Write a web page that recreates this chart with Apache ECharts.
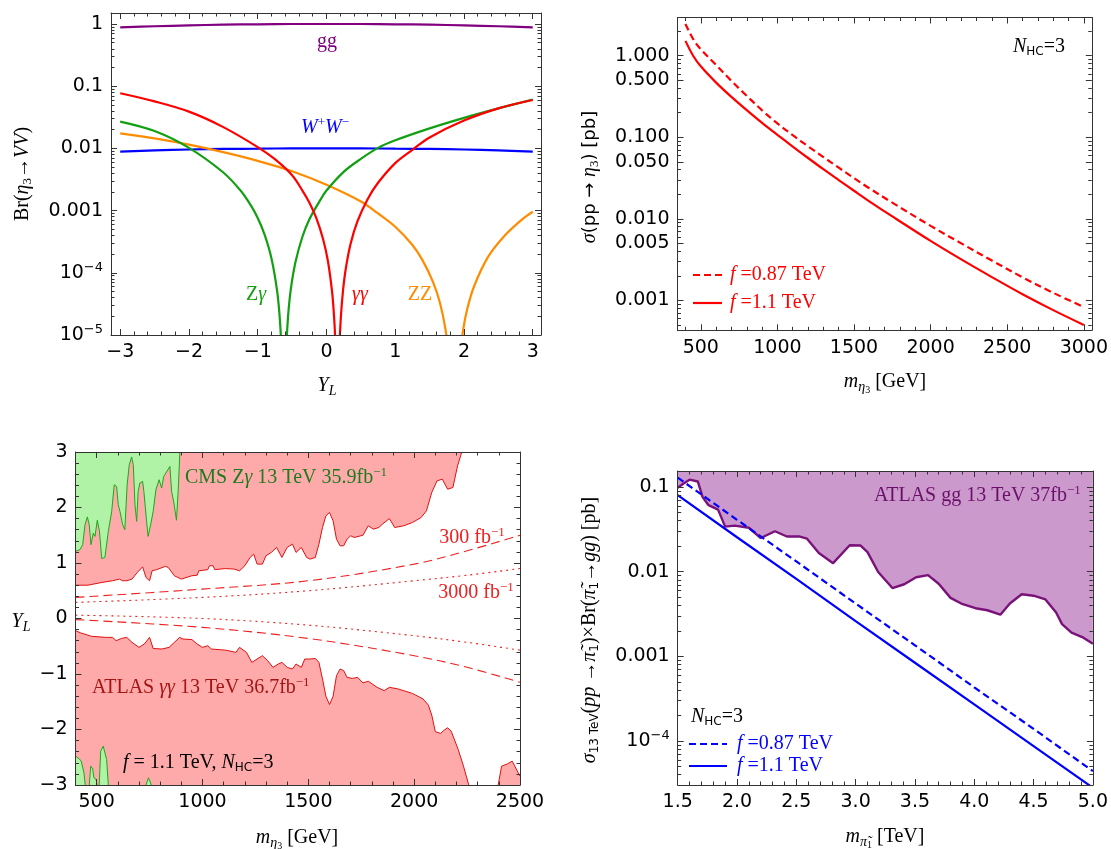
<!DOCTYPE html>
<html>
<head>
<meta charset="utf-8">
<script src="https://cdn.jsdelivr.net/npm/echarts@6.0.0/dist/echarts.min.js"></script>
<style>
  html, body { margin: 0; padding: 0; background: #fff; }
  #chart { width: 1111px; height: 849px; }
</style>
</head>
<body>
<div id="chart"></div>
<script>
// 左上: Br(eta3 -> VV) vs Y_L
var yL = [-3, -2.5, -2, -1.5, -1, -0.5, 0, 0.5, 1, 1.5, 2, 2.5, 3];
var brGG = [0.88, 0.92, 0.95, 0.975, 0.99, 1.0, 1.0, 1.0, 0.99, 0.975, 0.95, 0.92, 0.88];
var brWW = [0.0089, 0.0093, 0.0096, 0.0098, 0.0099, 0.01, 0.01, 0.01, 0.0099, 0.0098, 0.0096, 0.0093, 0.0089];
var yLaa = [-3, -2.5, -2, -1.5, -1, -0.75, -0.5, -0.35, -0.25, -0.15, -0.05, 0.02, 0.08, 0.11, 0.13, 0.145, 0.16, 0.175, 0.19, 0.21, 0.24, 0.28, 0.35, 0.45, 0.6, 0.75, 1, 1.25, 1.5, 2, 2.5, 3];
var brAA = [0.077, 0.057, 0.039, 0.022, 0.0105, 0.0067, 0.0037, 0.0021, 0.00135, 0.00077, 0.00035, 0.000156, 5.1e-5, 2e-5, 7.2e-6, 1.8e-6, 1e-8, 1.8e-6, 7.2e-6, 2e-5, 5.1e-5, 1.15e-4, 2.9e-4, 6.7e-4, 0.00154, 0.0028, 0.0058, 0.0095, 0.015, 0.028, 0.044, 0.06];
var yLza = [-3, -2.5, -2, -1.5, -1.25, -1.1, -1, -0.9, -0.8, -0.72, -0.68, -0.65, -0.635, -0.62, -0.605, -0.59, -0.56, -0.52, -0.45, -0.35, -0.25, -0.1, 0, 0.25, 0.5, 0.75, 1, 1.5, 2, 2.5, 3];
var brZA = [0.027, 0.019, 0.0102, 0.0041, 0.0021, 0.00121, 0.00076, 0.00041, 0.00017, 5.3e-5, 1.9e-5, 4.7e-6, 1.2e-6, 1e-8, 1.2e-6, 4.7e-6, 1.9e-5, 5.3e-5, 1.5e-4, 3.8e-4, 7.2e-4, 1.42e-3, 0.0021, 0.0042, 0.0068, 0.0102, 0.0135, 0.021, 0.031, 0.044, 0.061];
var yLzz = [-3, -2.5, -2, -1.5, -1, -0.5, 0, 0.5, 0.75, 1, 1.25, 1.4, 1.55, 1.65, 1.73, 1.79, 1.83, 1.86, 1.89, 1.93, 1.99, 2.05, 2.15, 2.35, 2.6, 2.85, 3];
var brZZ = [0.0175, 0.0145, 0.0115, 0.0087, 0.0063, 0.0043, 0.0026, 0.0014, 0.0009, 0.00055, 0.00028, 0.000157, 7.1e-5, 3.3e-5, 1.25e-5, 3.6e-6, 6.7e-7, 1e-8, 6.7e-7, 3.6e-6, 1.25e-5, 2.7e-5, 6.2e-5, 1.8e-4, 4.05e-4, 7.3e-4, 0.00096];

// 右上: sigma(pp -> eta3)
var mEta = [400, 450, 500, 600, 700, 800, 900, 1000, 1100, 1200, 1300, 1400, 1500, 1600, 1750, 2000, 2200, 2400, 2600, 2800, 3000];
var sig087 = [2.45, 1.6, 1.2, 0.77, 0.49, 0.322, 0.214, 0.148, 0.106, 0.0775, 0.0572, 0.0424, 0.0316, 0.0237, 0.0158, 0.0082, 0.005, 0.00308, 0.00192, 0.00124, 0.00083];
var sig11 = [1.52, 1.0, 0.741, 0.468, 0.313, 0.215, 0.15, 0.107, 0.0769, 0.0557, 0.0406, 0.0299, 0.0221, 0.0164, 0.0107, 0.00536, 0.00318, 0.00193, 0.00119, 0.00076, 0.0005];

// 左下: 排除区域
var redUpM = [400, 458, 525, 575, 608, 622, 642, 667, 692, 717, 733, 750, 762, 783, 825, 838, 867, 900, 950, 975, 983, 1025, 1033, 1050, 1058, 1108, 1150, 1175, 1200, 1225, 1242, 1258, 1283, 1300, 1325, 1350, 1367, 1375, 1400, 1425, 1442, 1467, 1492, 1508, 1533, 1550, 1567, 1583, 1600, 1617, 1633, 1650, 1667, 1683, 1700, 1717, 1758, 1783, 1808, 1833, 1850, 1883, 1908, 1950, 1992, 2033, 2058, 2083, 2108, 2133, 2158, 2183, 2205, 2225];
var redUpY = [0.60, 0.60, 0.65, 0.68, 0.71, 0.68, 0.68, 0.71, 0.83, 0.93, 0.74, 0.68, 0.86, 0.88, 0.94, 0.92, 0.77, 0.71, 0.77, 0.78, 0.86, 0.88, 0.95, 0.95, 0.88, 0.90, 0.89, 0.86, 0.95, 1.10, 1.16, 0.98, 0.98, 1.13, 1.19, 1.28, 1.16, 1.10, 1.28, 1.34, 1.19, 1.28, 1.10, 1.07, 1.10, 1.34, 1.64, 1.85, 1.91, 1.76, 1.43, 1.31, 1.31, 1.43, 1.49, 1.46, 1.50, 1.67, 1.61, 1.64, 1.70, 1.80, 1.64, 1.67, 1.73, 1.82, 1.94, 2.27, 2.48, 2.51, 2.33, 2.36, 2.75, 3.0];
var redLoM = [400, 425, 475, 542, 575, 592, 617, 642, 667, 700, 725, 750, 767, 808, 842, 867, 892, 908, 950, 975, 1000, 1025, 1042, 1108, 1158, 1175, 1208, 1233, 1258, 1283, 1308, 1333, 1358, 1375, 1400, 1425, 1442, 1467, 1483, 1508, 1533, 1550, 1567, 1583, 1600, 1617, 1633, 1650, 1667, 1683, 1708, 1733, 1758, 1783, 1825, 1858, 1883, 1925, 1992, 2042, 2067, 2083, 2100, 2125, 2142, 2158, 2175, 2208, 2233, 2258];
var redLoY = [-0.22, -0.26, -0.32, -0.34, -0.34, -0.40, -0.36, -0.34, -0.43, -0.52, -0.46, -0.34, -0.54, -0.55, -0.52, -0.43, -0.34, -0.37, -0.38, -0.46, -0.52, -0.49, -0.55, -0.57, -0.61, -0.52, -0.61, -0.79, -0.73, -0.67, -0.76, -0.88, -0.82, -0.79, -0.88, -0.91, -0.82, -0.88, -0.73, -0.73, -0.72, -0.79, -1.09, -1.40, -1.55, -1.40, -1.03, -0.91, -0.94, -1.06, -1.08, -1.06, -1.16, -1.13, -1.24, -1.30, -1.24, -1.27, -1.35, -1.45, -1.56, -1.74, -2.04, -2.07, -2.01, -1.97, -2.03, -2.36, -2.66, -3.0];
var redBumpM = [2397, 2413, 2440, 2463, 2500];
var redBumpY = [-3.0, -2.66, -2.62, -2.57, -2.84];
var greenUpM = [400, 421, 434, 445, 456, 465, 473, 484, 492, 503, 513, 524, 539, 555, 571, 583, 594, 602, 610, 623, 633, 644, 654, 665, 673, 681, 689, 696, 704, 717, 723, 736, 743, 755, 767, 780, 795, 807, 817, 846, 854, 865, 877, 885, 893];
var greenUpY = [1.21, 1.24, 1.33, 1.69, 1.83, 1.69, 1.33, 1.54, 1.48, 1.77, 1.58, 1.08, 1.10, 1.57, 1.93, 2.41, 2.38, 2.05, 1.93, 1.69, 1.60, 2.41, 2.77, 2.91, 2.77, 2.05, 1.75, 2.29, 2.44, 2.47, 2.29, 1.75, 1.48, 1.69, 1.93, 2.32, 2.50, 2.35, 2.56, 2.74, 2.29, 2.08, 1.77, 2.29, 3.0];
var greenLoM = [400, 408, 418, 427, 434, 440, 446, 455, 465, 472, 481, 487, 497, 502, 508, 512, 519, 531, 539, 547, 555, 640, 733, 745, 758];
var greenLoY = [-2.48, -2.51, -2.53, -2.57, -2.60, -2.78, -3.0, null, -3.0, -2.66, -2.71, -2.87, -2.90, -3.0, null, -3.0, -2.39, -2.30, -2.33, -2.54, -3.0, null, -3.0, -2.87, -3.0];
var projM = [400, 1000, 1500, 2000, 2250, 2500];
var lumi300Up = [0.38, 0.53, 0.68, 0.98, 1.22, 1.50];
var lumi300Lo = [-0.02, -0.16, -0.36, -0.67, -0.88, -1.15];
var lumi3000Up = [0.29, 0.38, 0.50, 0.68, 0.78, 0.90];
var lumi3000Lo = [0.06, 0.0, -0.12, -0.31, -0.43, -0.57];

// 右下: ATLAS gg 限制
var limM = [1.5, 1.55, 1.6, 1.67, 1.71, 1.76, 1.84, 1.9, 1.98, 2.1, 2.2, 2.32, 2.42, 2.53, 2.59, 2.69, 2.81, 2.95, 3.04, 3.1, 3.19, 3.31, 3.41, 3.51, 3.61, 3.7, 3.8, 3.89, 4.01, 4.11, 4.22, 4.3, 4.4, 4.5, 4.6, 4.69, 4.74, 4.82, 4.92, 5.0];
var limSig = [0.098, 0.11, 0.122, 0.116, 0.076, 0.061, 0.054, 0.034, 0.035, 0.033, 0.025, 0.03, 0.026, 0.026, 0.0245, 0.0166, 0.0126, 0.0205, 0.0204, 0.017, 0.0099, 0.0064, 0.0071, 0.0086, 0.0091, 0.0072, 0.0049, 0.0042, 0.0037, 0.0035, 0.0031, 0.0042, 0.0054, 0.0052, 0.0047, 0.0033, 0.0024, 0.0019, 0.00166, 0.00141];
var mPi = [1.5, 2.0, 2.5, 3.0, 3.5, 4.0, 4.5, 5.0];
var sigPi087 = [0.129, 0.041, 0.0132, 0.0042, 0.00135, 0.00043, 0.000139, 4.4e-5];
var sigPi11 = [0.08, 0.0255, 0.0082, 0.0026, 0.00084, 0.00027, 8.7e-5, 2.8e-5];

(function () {
  var chart = echarts.init(document.getElementById("chart"));
  var SERIF = '"Liberation Serif", "Times New Roman", serif';
  var SANS = '"DejaVu Sans", sans-serif';
  var FRAME = "#333";

  var pts = function (xs, ys) {
    return xs.map(function (x, i) { return [x, ys[i]]; });
  };
  var linTicks = function (lo, hi, step, skip) {
    var out = [];
    for (var i = Math.ceil(lo / step - 1e-9); i * step <= hi + 1e-9; i++) {
      var v = +(i * step).toFixed(6);
      if (skip && Math.abs(v / skip - Math.round(v / skip)) < 1e-6) continue;
      out.push(v);
    }
    return out;
  };
  var logTicks = function (lo, hi, mults) {
    var out = [];
    for (var e = -6; e <= 1; e++) {
      mults.forEach(function (k) {
        var v = +(k * Math.pow(10, e)).toPrecision(6);
        if (v >= lo && v <= hi) out.push(v);
      });
    }
    return out;
  };
  var minus = function (v) {
    return v < 0 ? "\u2212" + (-v) : String(v);
  };
  var sciLabel = function (v) {
    if (v >= 0.001) return String(+v.toPrecision(3));
    return "10{sup|\u2212" + Math.round(-Math.log10(v)) + "}";
  };

  var tickRich = { sup: { fontFamily: SANS, fontSize: 13, padding: [0, 0, 11, 0] } };
  var xAxes = [], yAxes = [];
  // 每条边两根轴: 主刻度(+标签) 与 次刻度
  function side(list, grid, pos, type, range, major, minor, fmt) {
    var idx = list.length;
    var common = {
      gridIndex: grid, type: type, min: range[0], max: range[1], position: pos, z: 6,
      splitLine: { show: false }, minorTick: { show: false }
    };
    if (type === "log") common.logBase = 10;
    list.push(Object.assign({}, common, {
      axisLine: { show: true, onZero: false, lineStyle: { color: FRAME, width: 1 } },
      axisTick: { show: true, inside: true, length: 6, customValues: major, lineStyle: { color: FRAME, width: 1 } },
      axisLabel: fmt ? {
        show: true, customValues: major, formatter: fmt, color: "#000",
        fontFamily: SANS, fontSize: 19, margin: 8, rich: tickRich
      } : { show: false }
    }));
    list.push(Object.assign({}, common, {
      axisLine: { show: false, onZero: false },
      axisTick: { show: true, inside: true, length: 3.5, customValues: minor, lineStyle: { color: FRAME, width: 1 } },
      axisLabel: { show: false }
    }));
    return idx;
  }
  function frame(grid, xType, xr, xMaj, xMin, xFmt, yType, yr, yMaj, yMin, yFmt) {
    var xi = side(xAxes, grid, "bottom", xType, xr, xMaj, xMin, xFmt);
    side(xAxes, grid, "top", xType, xr, xMaj, xMin, null);
    var yi = side(yAxes, grid, "left", yType, yr, yMaj, yMin, yFmt);
    side(yAxes, grid, "right", yType, yr, yMaj, yMin, null);
    return [xi, yi];
  }

  var grids = [
    { left: 111, top: 13, width: 430, height: 322 },
    { left: 677.5, top: 17.5, width: 416, height: 312.8 },
    { left: 75.5, top: 452, width: 444.5, height: 333 },
    { left: 677.7, top: 471, width: 418.8, height: 314 }
  ];

  var logMinor = [2, 3, 4, 5, 6, 7, 8, 9];
  var a0 = frame(0, "value", [-3.134, 3.12], linTicks(-3, 3, 1), linTicks(-3.1, 3.1, 0.2, 1), minus,
    "log", [1e-5, 1.503], logTicks(1e-5, 1.503, [1]), logTicks(1e-5, 1.503, logMinor), sciLabel);
  var a1 = frame(1, "value", [348, 3052], linTicks(500, 3000, 500), linTicks(400, 3000, 100, 500),
    function (v) { return String(v); },
    "log", [4.3e-4, 2.94], logTicks(1e-3, 2.94, [1, 5]), logTicks(4.3e-4, 2.94, [2, 3, 4, 6, 7, 8, 9]).concat([5e-4]),
    function (v) { return v.toFixed(3); });
  var a2 = frame(2, "value", [400, 2500], linTicks(500, 2500, 500), linTicks(400, 2500, 100, 500),
    function (v) { return String(v); },
    "value", [-3, 3], linTicks(-3, 3, 1), linTicks(-3, 3, 0.2, 1), minus);
  var a3 = frame(3, "value", [1.5, 5.0], linTicks(1.5, 5, 0.5), linTicks(1.5, 5, 0.1, 0.5),
    function (v) { return v.toFixed(1); },
    "log", [3.02e-5, 0.1545], logTicks(3.02e-5, 0.1545, [1]), logTicks(3.02e-5, 0.1545, logMinor), sciLabel);

  var line = function (ax, data, color, width, dash, smooth) {
    return {
      type: "line", xAxisIndex: ax[0], yAxisIndex: ax[1], data: data,
      showSymbol: false, symbol: "none", smooth: smooth === undefined ? 0.35 : smooth, clip: true,
      lineStyle: { color: color, width: width, type: dash || "solid" }
    };
  };
  var fill = function (ax, data, lineColor, fillColor, origin, width) {
    return {
      type: "line", xAxisIndex: ax[0], yAxisIndex: ax[1], data: data,
      showSymbol: false, symbol: "none", smooth: false, clip: true,
      lineStyle: { color: lineColor, width: width || 1 },
      areaStyle: { color: fillColor, opacity: 1, origin: origin }
    };
  };

  var PURPLE = "#800080", BLUE = "#0000ff", RED = "#ff0000", GREEN = "#12a012", ORANGE = "#ff8c00";
  var series = [
    line(a0, pts(yL, brGG), PURPLE, 2.2),
    line(a0, pts(yL, brWW), BLUE, 2.2),
    line(a0, pts(yLzz, brZZ), ORANGE, 2.2),
    line(a0, pts(yLza, brZA), GREEN, 2.2),
    line(a0, pts(yLaa, brAA), RED, 2.2),

    line(a1, pts(mEta, sig087), RED, 2.2, [7, 4]),
    line(a1, pts(mEta, sig11), RED, 2.2),

    fill(a2, pts(redUpM, redUpY), "#e01010", "#ffaaaa", "end"),
    fill(a2, pts(redLoM, redLoY), "#e01010", "#ffaaaa", "start"),
    fill(a2, pts(redBumpM, redBumpY), "#e01010", "#ffaaaa", "start"),
    fill(a2, pts(greenUpM, greenUpY), "#1aa81a", "#b0f3a6", "end"),
    fill(a2, pts(greenLoM, greenLoY), "#1aa81a", "#b0f3a6", "start"),
    line(a2, pts(projM, lumi300Up), "#ee2020", 1.1, [9, 5]),
    line(a2, pts(projM, lumi300Lo), "#ee2020", 1.1, [9, 5]),
    line(a2, pts(projM, lumi3000Up), "#ee2020", 1.1, [2, 4]),
    line(a2, pts(projM, lumi3000Lo), "#ee2020", 1.1, [2, 4]),

    fill(a3, pts(limM, limSig), "#7a127a", "#cc99cc", "end", 2.4),
    line(a3, pts(mPi, sigPi087), BLUE, 2.2, [7, 4], false),
    line(a3, pts(mPi, sigPi11), BLUE, 2.2, "solid", false)
  ];

  var RICH = {
    n: { fontFamily: SERIF, fontSize: 20 },
    i: { fontFamily: SERIF, fontSize: 20, fontStyle: "italic" },
    s: { fontFamily: SANS, fontSize: 18 },
    sub: { fontFamily: SERIF, fontSize: 13, padding: [10, 0, 0, 0] },
    subi: { fontFamily: SERIF, fontSize: 14, fontStyle: "italic", padding: [10, 0, 0, 0] },
    subs: { fontFamily: SANS, fontSize: 12, padding: [9, 0, 0, 0] },
    subsub: { fontFamily: SERIF, fontSize: 10, padding: [17, 0, 0, 0] },
    sup: { fontFamily: SERIF, fontSize: 13, padding: [0, 0, 11, 0] }
  };
  var txt = function (x, y, text, color, align, rot) {
    return {
      type: "text", x: x, y: y, rotation: rot || 0, z: 100, silent: true,
      style: { text: text, fill: color, align: align || "center", verticalAlign: "middle", rich: RICH, font: "20px " + SERIF }
    };
  };
  var seg = function (x1, x2, y, color, dash) {
    return {
      type: "line", z: 100, silent: true, shape: { x1: x1, y1: y, x2: x2, y2: y },
      style: { stroke: color, lineWidth: 2.2, lineDash: dash || null }
    };
  };
  var R = Math.PI / 2;
  var graphic = [
    // 左上
    txt(23, 174, "{n|Br(}{i|\u03b7}{sub|3}{n|\u2192}{i|VV}{n|)}", "#000", "center", R),
    txt(327, 386, "{i|Y}{subi|L}", "#000"),
    txt(327, 42, "{n|gg}", PURPLE),
    txt(325, 128, "{i|W}{sup|+}{i|W}{sup|\u2212}", BLUE),
    txt(256, 295, "{n|Z}{i|\u03b3}", GREEN),
    txt(360, 295, "{i|\u03b3\u03b3}", RED),
    txt(420, 295, "{n|ZZ}", ORANGE),
    // 右上
    txt(590, 177, "{i|\u03c3}{s|(pp \u2192 }{i|\u03b7}{sub|3}{s|) [pb]}", "#000", "center", R),
    txt(885, 382, "{i|m}{subi|\u03b7}{subsub|3}{n| [GeV]}", "#000"),
    txt(1039, 47, "{i|N}{subs|HC}{n|=3}", "#000"),
    seg(693, 722, 275, RED, [7, 4]),
    seg(693, 722, 303, RED),
    txt(730, 275, "{i|f}{n| =0.87 TeV}", RED, "left"),
    txt(730, 303, "{i|f}{n| =1.1 TeV}", RED, "left"),
    // 左下
    txt(21, 622, "{i|Y}{subi|L}", "#000"),
    txt(297, 838, "{i|m}{subi|\u03b7}{subsub|3}{n| [GeV]}", "#000"),
    txt(472, 538, "{n|300 fb}{sup|\u22121}", "#ee2020"),
    txt(476, 593, "{n|3000 fb}{sup|\u22121}", "#ee2020"),
    txt(185, 478, "{n|CMS Z}{i|\u03b3}{n| 13 TeV 35.9fb}{sup|\u22121}", "#1d7a1d", "left"),
    txt(92, 688, "{n|ATLAS }{i|\u03b3\u03b3}{n| 13 TeV 36.7fb}{sup|\u22121}", "#a31515", "left"),
    txt(123, 763, "{i|f}{n| = 1.1 TeV, }{i|N}{subs|HC}{n|=3}", "#000", "left"),
    // 右下
    txt(590, 630, "{i|\u03c3}{subs|13 TeV}{n|(}{i|pp}{n| \u2192}{i|\u03c0\u0303}{subs|1}{n|)\u00d7Br(}{i|\u03c0\u0303}{subs|1}{n|\u2192}{i|gg}{n|) [pb]}", "#000", "center", R),
    txt(885, 837, "{i|m}{subi|\u03c0\u0303}{subsub|1}{n| [TeV]}", "#000"),
    txt(874, 496, "{n|ATLAS gg 13 TeV 37fb}{sup|\u22121}", "#6a106a", "left"),
    txt(691, 717, "{i|N}{subs|HC}{n|=3}", "#000", "left"),
    seg(689, 727, 744, BLUE, [7, 4]),
    seg(689, 727, 766, BLUE),
    txt(737, 744, "{i|f}{n| =0.87 TeV}", BLUE, "left"),
    txt(737, 766, "{i|f}{n| =1.1 TeV}", BLUE, "left")
  ];

  var option = {
    animation: false,
    backgroundColor: "#fff",
    grid: grids,
    xAxis: xAxes,
    yAxis: yAxes,
    series: series,
    graphic: graphic
  };
  chart.setOption(option);
  window.addEventListener("resize", function () {
    chart.resize();
  });
})();
</script>
</body>
</html>
